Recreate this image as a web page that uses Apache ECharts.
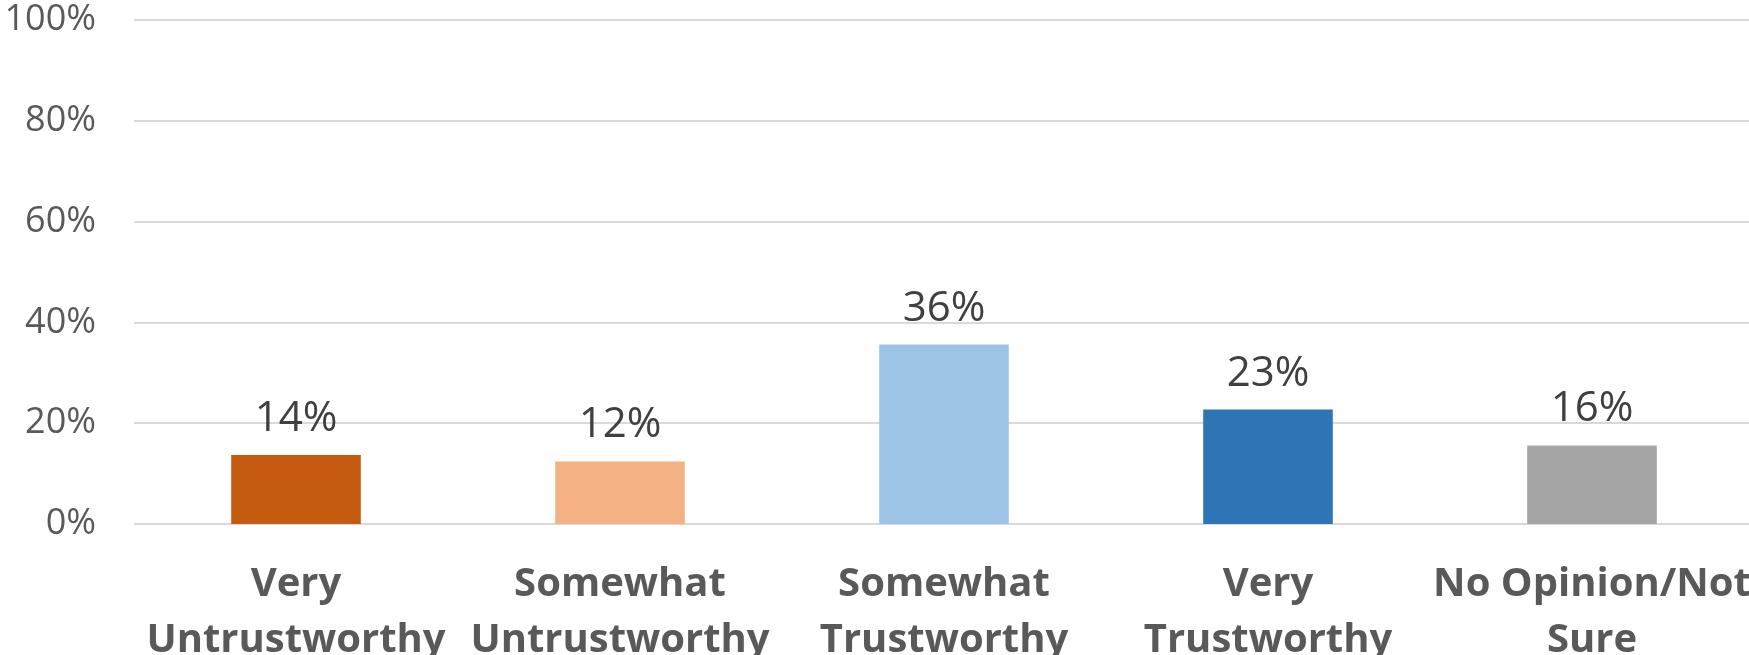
<!DOCTYPE html>
<html>
<head>
<meta charset="utf-8">
<script src="https://cdn.jsdelivr.net/npm/echarts@6/dist/echarts.min.js"></script>
<style>
html,body{margin:0;padding:0;background:#fff;}
#chart{width:1749px;height:655px;}
</style>
</head>
<body>
<div id="chart"></div>
<script>
const categories = ["Very\nUntrustworthy", "Somewhat\nUntrustworthy", "Somewhat\nTrustworthy", "Very\nTrustworthy", "No Opinion/Not\nSure"];
const values = [13.7, 12.4, 35.6, 22.7, 15.6];
const barColors = ["#C55A11", "#F4B183", "#9DC3E6", "#2E75B6", "#A5A5A5"];
const yTicks = [0, 20, 40, 60, 80, 100];

const chart = echarts.init(document.getElementById('chart'));
chart.setOption({
  animation: false,
  grid: { left: 134, right: -5, top: 20, bottom: 131, containLabel: false, outerBoundsMode: 'none' },
  xAxis: {
    type: 'category',
    data: categories,
    axisLine: { show: false },
    axisTick: { show: false },
    axisLabel: {
      interval: 0,
      margin: 33,
      color: '#595959',
      fontFamily: 'Open Sans',
      fontWeight: 'bold',
      fontSize: 40,
      lineHeight: 56
    }
  },
  yAxis: {
    type: 'value',
    min: yTicks[0],
    max: yTicks[yTicks.length - 1],
    interval: 20,
    axisLine: { show: false },
    axisTick: { show: false },
    splitLine: { lineStyle: { color: '#D9D9D9', width: 2 } },
    axisLabel: {
      margin: 38,
      color: '#595959',
      fontFamily: 'Open Sans',
      fontSize: 36,
      formatter: v => v + '%'
    }
  },
  series: [{
    type: 'bar',
    data: values.map((v, i) => ({ value: v, itemStyle: { color: barColors[i] } })),
    barWidth: '40%',
    label: {
      show: true,
      position: 'top',
      distance: 15,
      color: '#404040',
      fontFamily: 'Open Sans',
      fontSize: 42,
      formatter: p => Math.round(p.value) + '%'
    }
  }]
});
</script>
</body>
</html>
